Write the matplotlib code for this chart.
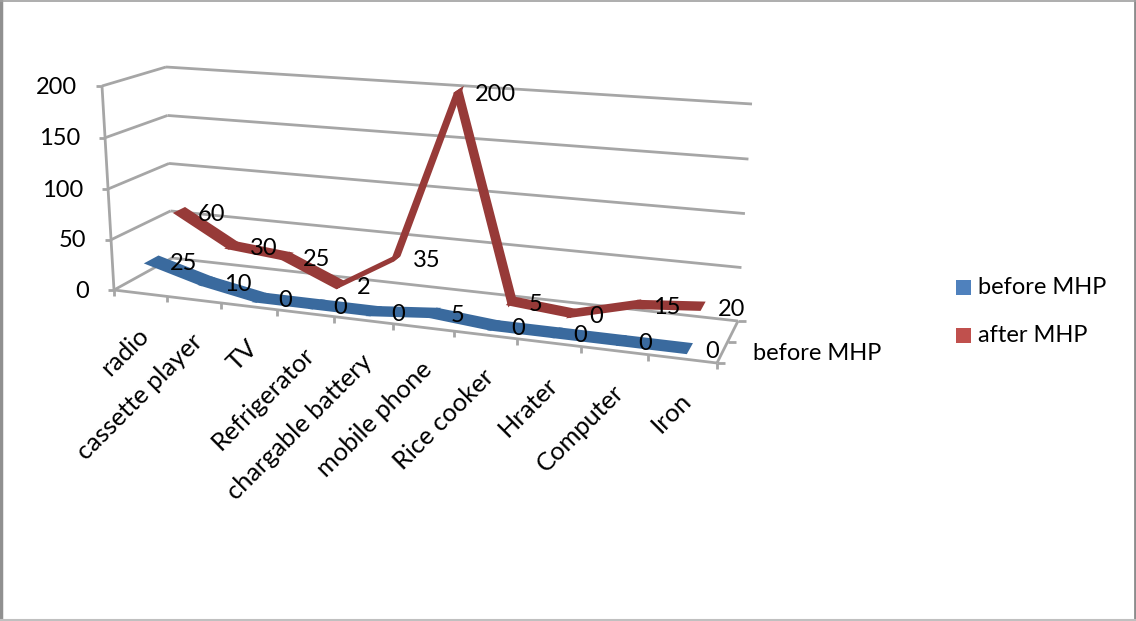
import matplotlib
matplotlib.use("Agg")
import matplotlib.pyplot as plt
from matplotlib.patches import Rectangle

plt.rcParams['font.family'] = ['Lato', 'DejaVu Sans']

categorias = ["radio", "cassette player", "TV", "Refrigerator", "chargable battery",
              "mobile phone", "Rice cooker", "Hrater", "Computer", "Iron"]
before_mhp = [25, 10, 0, 0, 0, 5, 0, 0, 0, 0]
after_mhp = [60, 30, 25, 2, 35, 200, 5, 0, 15, 20]
ticks_y = [0, 50, 100, 150, 200]

AZUL = "#3a6a9e"
ROJO = "#973a38"
GRIS = "#a6a6a6"
FS = 17

# esquinas de la caja 3D en pixeles (frente/fondo, piso/techo)
F0I, F0D = (114, 290), (717, 363)
A0I, A0D = (172, 258), (738, 321)
F2I, F2D = (102, 86), (745, 131)
A2I, A2D = (166, 67), (752, 104)
YMAX = 200.0


def fuga(t, k):
    # reparto con perspectiva a lo largo de un eje
    return t / (t + k * (1 - t))


def mezcla(a, b, t):
    return (a[0] + (b[0] - a[0]) * t, a[1] + (b[1] - a[1]) * t)


def proy(u, valor, prof):
    # u: 0-1 a lo largo de categorias, prof: 0 frente, 1 fondo
    fu = fuga(u, 1.16)
    fv = fuga(valor / YMAX, 1.02)
    abajo = mezcla(mezcla(F0I, F0D, fu), mezcla(A0I, A0D, fu), prof)
    arriba = mezcla(mezcla(F2I, F2D, fu), mezcla(A2I, A2D, fu), prof)
    return mezcla(abajo, arriba, fv)


def linea(ax, p, q, lw=2.0, color=GRIS):
    ax.plot([p[0], q[0]], [p[1], q[1]], color=color, lw=lw, solid_capstyle="butt", zorder=1)


def cinta(ax, valores, prof, ancho, color):
    # linea 3D de Excel: una cinta con profundidad, un poligono por tramo
    n = len(valores)
    for i in range(n - 1):
        u1 = (i + 0.5) / n
        u2 = (i + 1.5) / n
        pts = [proy(u1, valores[i], prof - ancho), proy(u2, valores[i + 1], prof - ancho),
               proy(u2, valores[i + 1], prof + ancho), proy(u1, valores[i], prof + ancho)]
        ax.fill([p[0] for p in pts], [p[1] for p in pts], color=color, lw=2.4, zorder=3)


fig = plt.figure(figsize=(11.36, 6.21), dpi=100)
ax = fig.add_axes([0, 0, 1, 1])
ax.set_xlim(0, 1136)
ax.set_ylim(621, 0)
ax.axis("off")

# marco del grafico
ax.plot([1, 1], [0, 621], color="#909090", lw=2.5)
ax.plot([1134.5, 1134.5], [0, 621], color="#8c8c8c", lw=2)
ax.plot([0, 1136], [0.5, 0.5], color="#a0a0a0", lw=1.2)
ax.plot([0, 1136], [620, 620], color="#c0c0c0", lw=1.5)

# lineas de division: pared lateral y pared del fondo
for t in ticks_y:
    linea(ax, proy(0, t, 0), proy(0, t, 1))
    linea(ax, proy(0, t, 1), proy(1, t, 1))
    frente = proy(0, t, 0)
    linea(ax, (frente[0] - 6, frente[1]), frente)
    ax.text(frente[0] - 25, frente[1] + 1, str(t), ha="right", va="center", fontsize=FS, zorder=5)

# ejes del frente
linea(ax, proy(0, 0, 0), proy(0, 200, 0))
linea(ax, proy(0, 0, 0), proy(1, 0, 0))
linea(ax, proy(1, 0, 0), proy(1, 0, 1))
for i in range(len(categorias) + 1):
    p = proy(i / len(categorias), 0, 0)
    linea(ax, p, (p[0], p[1] + 6))
for prof in [0, 0.5, 1]:
    p = proy(1, 0, prof)
    linea(ax, p, (p[0] + 8, p[1]))

cinta(ax, after_mhp, 0.75, 0.075, ROJO)
cinta(ax, before_mhp, 0.25, 0.095, AZUL)

# etiquetas de datos a la derecha de cada punto
for serie, prof in [(before_mhp, 0.25), (after_mhp, 0.75)]:
    for i, v in enumerate(serie):
        p = proy((i + 0.5) / len(serie), v, prof)
        ax.text(p[0] + 17, p[1] + 3, str(v), ha="left", va="center", fontsize=FS, zorder=6)

# nombres de categorias a 45 grados
for i, nombre in enumerate(categorias):
    p = proy((i + 0.5) / len(categorias), 0, 0)
    ax.text(p[0] + 5, p[1] + 38, nombre, rotation=45, rotation_mode="anchor",
            ha="right", va="center", fontsize=18.3, zorder=5)

ax.text(753, 354, "before MHP", ha="left", va="center", fontsize=FS)

# leyenda
ax.add_patch(Rectangle((956, 280), 15, 15, color="#4f81bd", lw=0))
ax.text(978, 288, "before MHP", ha="left", va="center", fontsize=FS)
ax.add_patch(Rectangle((956, 328), 15, 15, color="#c0504d", lw=0))
ax.text(978, 336, "after MHP", ha="left", va="center", fontsize=FS)

fig.savefig("out.png", dpi=100)
